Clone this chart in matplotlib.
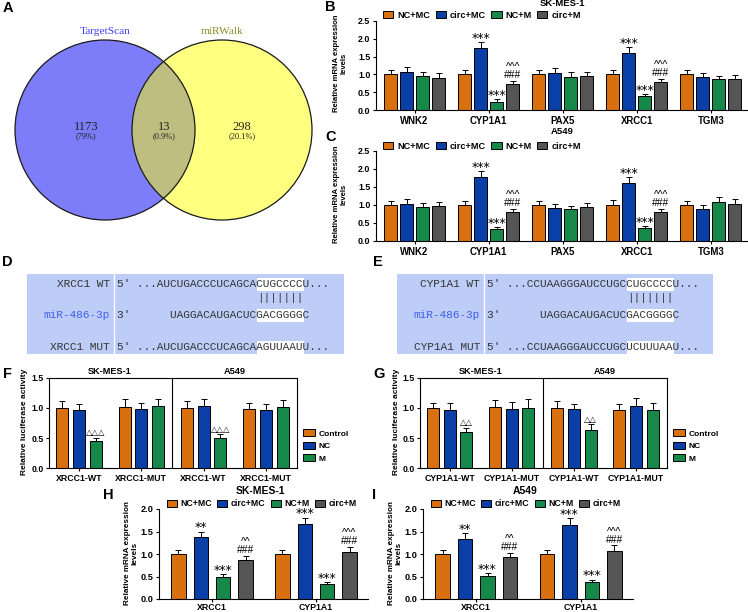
import numpy as np
import matplotlib
matplotlib.use("Agg")
import matplotlib.pyplot as plt
from matplotlib.patches import Circle, Rectangle

# -----------------------------
# Data
# -----------------------------
venn_sets = ["TargetScan", "miRWalk"]
venn_counts = [1173, 13, 298]
venn_pcts = ["(79%)", "(0.9%)", "(20.1%)"]

qpcr_series = ["NC+MC", "circ+MC", "NC+M", "circ+M"]
genes = ["WNK2", "CYP1A1", "PAX5", "XRCC1", "TGM3"]

# B: SK-MES-1
b_ncmc = [1.00, 1.00, 1.00, 1.00, 1.00]
b_ncmc_err = [0.11, 0.12, 0.11, 0.13, 0.11]
b_circmc = [1.06, 1.74, 1.04, 1.59, 0.93]
b_circmc_err = [0.14, 0.17, 0.14, 0.17, 0.11]
b_ncm = [0.95, 0.23, 0.93, 0.38, 0.86]
b_ncm_err = [0.12, 0.08, 0.13, 0.07, 0.10]
b_circm = [0.91, 0.73, 0.96, 0.79, 0.86]
b_circm_err = [0.12, 0.08, 0.11, 0.09, 0.11]

# C: A549
c_ncmc = [1.00, 1.00, 1.00, 1.00, 1.00]
c_ncmc_err = [0.10, 0.11, 0.10, 0.13, 0.11]
c_circmc = [1.04, 1.77, 0.92, 1.62, 0.88]
c_circmc_err = [0.13, 0.17, 0.12, 0.16, 0.11]
c_ncm = [0.94, 0.32, 0.88, 0.35, 1.09]
c_ncm_err = [0.12, 0.06, 0.10, 0.06, 0.14]
c_circm = [0.96, 0.81, 0.95, 0.80, 1.04]
c_circm_err = [0.12, 0.09, 0.11, 0.09, 0.13]

bc_sig_circmc = ["", "***", "", "***", ""]
bc_sig_ncm = ["", "***", "", "***", ""]
bc_sig_circm = ["", "^^^\n###", "", "^^^\n###", ""]

# D / E: binding sites
d_labels = ["XRCC1 WT", "miR-486-3p", "XRCC1 MUT"]
d_seqs = ["5' ...AUCUGACCCUCAGCACUGCCCCU...",
          "3'      UAGGACAUGACUCGACGGGGC",
          "5' ...AUCUGACCCUCAGCAAGUUAAUU..."]
e_labels = ["CYP1A1 WT", "miR-486-3p", "CYP1A1 MUT"]
e_seqs = ["5' ...CCUAAGGGAUCCUGCCUGCCCCU...",
          "3'      UAGGACAUGACUCGACGGGGC",
          "5' ...CCUAAGGGAUCCUGCUCUUUAAU..."]
pair_marks = "|||||||"
seed_start = 21
seed_len = 7

# F / G: luciferase
luc_series = ["Control", "NC", "M"]
f_groups = ["XRCC1-WT", "XRCC1-MUT", "XRCC1-WT", "XRCC1-MUT"]
f_control = [1.00, 1.02, 1.00, 0.98]
f_control_err = [0.12, 0.13, 0.11, 0.10]
f_nc = [0.97, 0.98, 1.03, 0.96]
f_nc_err = [0.10, 0.11, 0.12, 0.11]
f_m = [0.45, 1.03, 0.50, 1.02]
f_m_err = [0.05, 0.12, 0.06, 0.11]
f_sig_m = ["\u25b3\u25b3\u25b3", "", "\u25b3\u25b3\u25b3", ""]

g_groups = ["CYP1A1-WT", "CYP1A1-MUT", "CYP1A1-WT", "CYP1A1-MUT"]
g_control = [1.00, 1.02, 1.00, 0.97]
g_control_err = [0.08, 0.11, 0.12, 0.09]
g_nc = [0.96, 0.98, 0.98, 1.03]
g_nc_err = [0.12, 0.12, 0.09, 0.13]
g_m = [0.60, 1.00, 0.64, 0.96]
g_m_err = [0.07, 0.15, 0.09, 0.12]
g_sig_m = ["\u25b3\u25b3", "", "\u25b3\u25b3", ""]
cell_lines = ["SK-MES-1", "A549"]

# H / I
hi_genes = ["XRCC1", "CYP1A1"]
h_ncmc = [1.00, 1.00]
h_ncmc_err = [0.10, 0.10]
h_circmc = [1.37, 1.66]
h_circmc_err = [0.13, 0.15]
h_ncm = [0.50, 0.33]
h_ncm_err = [0.06, 0.05]
h_circm = [0.87, 1.04]
h_circm_err = [0.09, 0.12]

i_ncmc = [1.00, 1.00]
i_ncmc_err = [0.10, 0.10]
i_circmc = [1.33, 1.65]
i_circmc_err = [0.13, 0.15]
i_ncm = [0.52, 0.37]
i_ncm_err = [0.05, 0.06]
i_circm = [0.93, 1.07]
i_circm_err = [0.10, 0.12]

hi_sig_circmc = ["**", "***"]
hi_sig_ncm = ["***", "***"]
hi_sig_circm = ["^^\n###", "^^^\n###"]

colors = ["#D9700F", "#0B3FA8", "#16884A", "#555555"]

# -----------------------------
# Figure helpers (pixel layout)
# -----------------------------
plt.rcParams["font.family"] = ["Liberation Sans", "DejaVu Sans"]
plt.rcParams["font.weight"] = "bold"

W, H = 748, 612
fig = plt.figure(figsize=(W / 100, H / 100), dpi=100)


def fx(x):
    return x / W


def fy(y):
    return 1 - y / H


def px_axes(l, t, r, b):
    return fig.add_axes([l / W, 1 - b / H, (r - l) / W, (b - t) / H])


def style_axes(ax, ylim, yticks, ytick_fs, xtick_fs, box=False, xpad=1.5):
    ax.set_ylim(*ylim)
    ax.set_yticks(yticks)
    ax.set_yticklabels([f"{v:.1f}" for v in yticks])
    for s in ["top", "right"]:
        ax.spines[s].set_visible(box)
    for s in ax.spines.values():
        s.set_linewidth(0.8)
    ax.tick_params(axis="both", direction="out", length=2.5, width=0.8, pad=1.5)
    ax.tick_params(axis="y", labelsize=ytick_fs)
    ax.tick_params(axis="x", labelsize=xtick_fs, pad=xpad)


def annotate(ax, x, y, s, fs):
    if "*" in s:
        ax.annotate(s, (x, y), xytext=(0, -2), textcoords="offset points",
                    ha="center", va="bottom", fontsize=fs + 2.2,
                    family="DejaVu Sans", fontweight="normal")
    elif "\u25b3" in s:
        ax.annotate(s, (x, y), xytext=(0, 0.5), textcoords="offset points",
                    ha="center", va="bottom", fontsize=fs - 0.5,
                    family="DejaVu Sans", fontweight="normal")
    else:
        ax.annotate(s, (x, y), xytext=(0, 0.5), textcoords="offset points",
                    ha="center", va="bottom", fontsize=fs + 0.6, linespacing=0.75,
                    fontweight="normal")


def bar_panel(ax, groups, series, errs, pitch, width, sigs, sig_fs):
    xs = np.arange(len(groups))
    n = len(series)
    handles = []
    for k in range(n):
        x = xs + (k - (n - 1) / 2) * pitch
        h = ax.bar(x, series[k], width, color=colors[k], edgecolor="black",
                   linewidth=0.7, yerr=[np.zeros(len(groups)), errs[k]],
                   capsize=2.2, error_kw=dict(elinewidth=0.7, capthick=0.7),
                   zorder=2)
        handles.append(h)
        if sigs[k]:
            for xi, v, e, s in zip(x, series[k], errs[k], sigs[k]):
                if s:
                    annotate(ax, xi, v + e, s, sig_fs)
    ax.set_xticks(xs)
    ax.set_xticklabels(groups)
    return handles


def row_legend(handles, labels, x, y, fs):
    fig.legend(handles, labels, loc="center left", bbox_to_anchor=(fx(x), fy(y)),
               ncol=len(labels), frameon=False, fontsize=fs, borderpad=0,
               borderaxespad=0, handlelength=1.1, handleheight=0.8,
               handletextpad=0.45, columnspacing=0.6)


def col_legend(handles, labels, x, y, fs):
    fig.legend(handles, labels, loc="center left", bbox_to_anchor=(fx(x), fy(y)),
               ncol=1, frameon=False, fontsize=fs, borderpad=0,
               borderaxespad=0, handlelength=1.45, handleheight=0.9,
               handletextpad=0.4, labelspacing=0.5)


# -----------------------------
# Overlay: Venn, sequences, panel letters
# -----------------------------
ov = fig.add_axes([0, 0, 1, 1])
ov.set_xlim(0, W)
ov.set_ylim(H, 0)
ov.axis("off")

left_c = Circle((105, 130), 90, facecolor="#7D7DFA", edgecolor="none")
right_c = Circle((222, 130), 90, facecolor="#FFFF80", edgecolor="none")
ov.add_patch(left_c)
ov.add_patch(right_c)
inter = Circle((222, 130), 90, facecolor="#BEBE80", edgecolor="none")
ov.add_patch(inter)
inter.set_clip_path(left_c)
for cx in [105, 222]:
    ov.add_patch(Circle((cx, 130), 90, fill=False, edgecolor="#1a1a1a", lw=0.9))

ov.text(105, 31, venn_sets[0], color="#3C3CF5", fontsize=8.2, family="Liberation Serif",
        ha="center", va="center", fontweight="normal")
ov.text(222, 31, venn_sets[1], color="#8C8C2A", fontsize=8.2, family="Liberation Serif",
        ha="center", va="center", fontweight="normal")
for cx, cnt, pct in zip([86, 164, 242], venn_counts, venn_pcts):
    ov.text(cx, 127, str(cnt), fontsize=9, family="Liberation Serif",
            ha="center", va="center", fontweight="normal", color="#222222")
    ov.text(cx, 136.5, pct, fontsize=6, family="Liberation Serif",
            ha="center", va="center", fontweight="normal", color="#222222")

# sequence boxes
char_w = 0.6 * 8 * 100 / 72


def seq_box(l, r, div, labels, seqs):
    ov.add_patch(Rectangle((l, 274), r - l, 80, facecolor="#BDCDF8", edgecolor="none"))
    ov.plot([div, div], [274, 354], color="white", lw=1)
    x0 = div + 3
    ys = [284, 315, 347]
    for lab, seq, y in zip(labels, seqs, ys):
        ov.add_patch(Rectangle((x0 + seed_start * char_w, y - 6.5), seed_len * char_w, 13,
                               facecolor="white", edgecolor="none"))
        ov.text(div - 4, y, lab, ha="right", va="center", fontsize=8,
                family="Liberation Mono", fontweight="normal",
                color="#3F5FE8" if lab.startswith("miR") else "#333333")
        ov.text(x0, y, seq, ha="left", va="center", fontsize=8,
                family="Liberation Mono", fontweight="normal", color="#333333")
    ov.text(x0 + seed_start * char_w, 298, pair_marks, ha="left", va="center",
            fontsize=8, family="Liberation Mono", fontweight="normal", color="#333333")


seq_box(27, 344, 114, d_labels, d_seqs)
seq_box(397, 713, 484, e_labels, e_seqs)

for lab, x, y in [("A", 3, 8), ("B", 325, 7), ("C", 325, 137), ("D", 2, 262),
                  ("E", 373, 262), ("F", 3, 374), ("G", 373, 374), ("H", 103, 495),
                  ("I", 372, 495)]:
    ov.text(x, y, lab, fontsize=10.5, fontweight="bold", ha="left", va="center")

# -----------------------------
# B and C
# -----------------------------
for (t, b, title, ty, ly, vals, errs) in [
        (21, 110, "SK-MES-1", 4, 15,
         [b_ncmc, b_circmc, b_ncm, b_circm],
         [b_ncmc_err, b_circmc_err, b_ncm_err, b_circm_err]),
        (151, 241, "A549", 132, 146.5,
         [c_ncmc, c_circmc, c_ncm, c_circm],
         [c_ncmc_err, c_circmc_err, c_ncm_err, c_circm_err])]:
    ax = px_axes(376, t, 748, b)
    hs = bar_panel(ax, genes, vals, errs, 0.216, 0.176,
                   [None, bc_sig_circmc, bc_sig_ncm, bc_sig_circm], 6.8)
    ax.set_xlim(-0.52, 4.5)
    style_axes(ax, (0, 2.5), [0, 0.5, 1.0, 1.5, 2.0, 2.5], 6.4, 6.9)
    fig.text(fx(562), fy(ty), title, ha="center", va="center", fontsize=6.8)
    row_legend(hs, qpcr_series, 383, ly, 6.6)
    fig.text(fx(340), fy((t + b) / 2 - 2), "Relative mRNA expression\nlevels",
             rotation=90, ha="center", va="center", fontsize=5.6, linespacing=1.1)

# -----------------------------
# F and G
# -----------------------------
for (l, r, groups, vals, errs, sig, ylab_x, leg_x) in [
        (49, 297, f_groups, [f_control, f_nc, f_m], [f_control_err, f_nc_err, f_m_err],
         f_sig_m, 25, 303),
        (420, 667, g_groups, [g_control, g_nc, g_m], [g_control_err, g_nc_err, g_m_err],
         g_sig_m, 396, 673)]:
    ax = px_axes(l, 378, r, 468)
    hs = bar_panel(ax, groups, vals, errs, 0.268, 0.193, [None, None, sig], 6.5)
    ax.set_xlim(-0.48, 3.5)
    style_axes(ax, (0, 1.5), [0, 0.5, 1.0, 1.5], 6.3, 6.3, box=True)
    ax.axvline(1.5, color="black", lw=0.8)
    for xc, cl in zip([0.5, 2.5], cell_lines):
        ax.text(xc, 1.53, cl, ha="center", va="bottom", fontsize=6.6)
    col_legend(hs, luc_series, leg_x, 446, 6.0)
    fig.text(fx(ylab_x), fy(422), "Relative luciferase activity", rotation=90,
             ha="center", va="center", fontsize=6.0)

# -----------------------------
# H and I
# -----------------------------
for (l, r, title, tx, vals, errs, ylab_x, leg_x) in [
        (159, 368, "SK-MES-1", 260, [h_ncmc, h_circmc, h_ncm, h_circm],
         [h_ncmc_err, h_circmc_err, h_ncm_err, h_circm_err], 131, 167),
        (423, 633, "A549", 525, [i_ncmc, i_circmc, i_ncm, i_circm],
         [i_ncmc_err, i_circmc_err, i_ncm_err, i_circm_err], 395, 431)]:
    ax = px_axes(l, 509, r, 599)
    hs = bar_panel(ax, hi_genes, vals, errs, 0.215, 0.14,
                   [None, hi_sig_circmc, hi_sig_ncm, hi_sig_circm], 6.8)
    ax.set_xlim(-0.51, 1.5)
    style_axes(ax, (0, 2.0), [0, 0.5, 1.0, 1.5, 2.0], 6.6, 6.3, xpad=0.3)
    fig.text(fx(tx), fy(491), title, ha="center", va="center", fontsize=7.5)
    row_legend(hs, qpcr_series, leg_x, 504, 6.3)
    fig.text(fx(ylab_x), fy(553), "Relative mRNA expression\nlevels", rotation=90,
             ha="center", va="center", fontsize=5.9, linespacing=1.0)

fig.savefig("out.png", dpi=100)
